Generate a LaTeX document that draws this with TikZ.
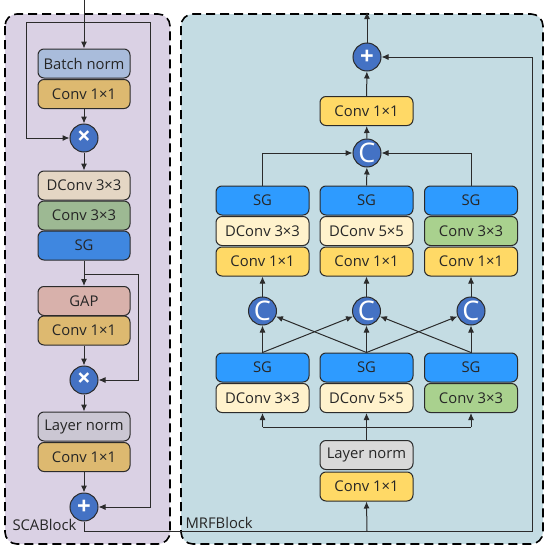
\documentclass[tikz,border=0pt]{standalone}
\usepackage{fontspec}
\setmainfont{Open Sans}
\usetikzlibrary{arrows.meta}
\definecolor{linec}{HTML}{2B2B2B}
\definecolor{scabg}{HTML}{DAD1E4}
\definecolor{mrfbg}{HTML}{C4DCE3}
\definecolor{opblue}{HTML}{4472C4}
\definecolor{bnc}{HTML}{A9BCDB}
\definecolor{tanc}{HTML}{DDB970}
\definecolor{beigec}{HTML}{E4D6C4}
\definecolor{greyg}{HTML}{9DB993}
\definecolor{sgl}{HTML}{3F87E0}
\definecolor{gapc}{HTML}{D8B1AB}
\definecolor{lnl}{HTML}{CBC7D3}
\definecolor{sgr}{HTML}{2E9BFF}
\definecolor{creamc}{HTML}{FFF2CC}
\definecolor{greenc}{HTML}{A9D18E}
\definecolor{yelc}{HTML}{FFD966}
\definecolor{lnr}{HTML}{D9D9D9}
\tikzset{
  blk/.style={draw=linec, line width=1pt, rounded corners=6pt, minimum width=92pt,
    minimum height=29pt, inner sep=0pt, text=black!85, font=\fontsize{14.8}{16}\selectfont},
  op/.style={circle, draw=linec, line width=1pt, fill=opblue, minimum size=28pt,
    inner sep=0pt, text=white},
  arr/.style={draw=linec, line width=1pt, -{Latex[length=7pt,width=6pt]}},
  ln/.style={draw=linec, line width=1pt},
  panel/.style={draw=black, line width=1.6pt, dash pattern=on 9pt off 5pt, rounded corners=12pt}
}
\newcommand{\opsym}[1]{\fontsize{24}{24}\selectfont\bfseries #1}
\newcommand{\catsym}{\fontsize{27}{27}\selectfont C}
\begin{document}
\begin{tikzpicture}[x=1pt, y=-1pt]
  \useasboundingbox (0,0) rectangle (550,549);
  % les deux blocs
  \filldraw[panel, fill=scabg] (5,14) rectangle (170,544);
  \filldraw[panel, fill=mrfbg] (181,14) rectangle (543,544);
  \node[anchor=west, font=\fontsize{14.8}{16}\selectfont, text=black!85] (scalab) at (9,525) {SCABlock};
  \node[anchor=west, font=\fontsize{14.8}{16}\selectfont, text=black!85] (mrflab) at (182,523) {MRFBlock};

  % SCABlock
  \node[blk, fill=bnc] (bn) at (84,63.5) {Batch norm};
  \node[blk, fill=tanc] (c1a) at (84,94) {Conv 1×1};
  \node[op] (mul1) at (84,138) {\opsym{×}};
  \node[blk, fill=beigec] (dc1) at (84,185.5) {DConv 3×3};
  \node[blk, fill=greyg] (cv1) at (84,215.5) {Conv 3×3};
  \node[blk, fill=sgl] (sg1) at (84,245.5) {SG};
  \node[blk, fill=gapc] (gap) at (84,301) {GAP};
  \node[blk, fill=tanc] (c1b) at (84,330.5) {Conv 1×1};
  \node[op] (mul2) at (84,380) {\opsym{×}};
  \node[blk, fill=lnl] (ln1) at (84,426.5) {Layer norm};
  \node[blk, fill=tanc] (c1c) at (84,457) {Conv 1×1};
  \node[op] (add1) at (84,507) {\opsym{+}};
  \coordinate (in) at (84,0); \coordinate (s1) at (84,22); \coordinate (s2) at (84,274);
  \coordinate (s3) at (84,531); \coordinate (s4) at (367,531);
  \draw[arr] (in) -- (bn.north);
  \draw[arr] (s1) -- (26,22) |- (mul1.west);
  \draw[arr] (s1) -- (150,22) |- (add1.east);
  \draw[arr] (c1a) -- (mul1); \draw[arr] (mul1) -- (dc1);
  \draw[arr] (sg1) -- (gap);
  \draw[arr] (s2) -- (138,274) |- (mul2.east);
  \draw[arr] (c1b) -- (mul2); \draw[arr] (mul2) -- (ln1); \draw[arr] (c1c) -- (add1);

  % MRFBlock
  \node[op] (addT) at (367,57) {\opsym{+}};
  \node[blk, fill=yelc, minimum width=93pt] (c1t) at (366.5,111) {Conv 1×1};
  \node[op] (cat) at (367,153) {\catsym};
  \foreach \n/\x/\lab/\col in {L/262.5/DConv 3×3/creamc, M/366.5/DConv 5×5/creamc, R/471/Conv 3×3/greenc} {
    \node[blk, fill=sgr, minimum width=93pt] (sgT\n) at (\x,200.5) {SG};
    \node[blk, fill=\col, minimum width=93pt] (dcT\n) at (\x,231) {\lab};
    \node[blk, fill=yelc, minimum width=93pt] (cvT\n) at (\x,261.5) {Conv 1×1};
    \node[op] (cat\n) at (\x,311) {\catsym};
    \node[blk, fill=sgr, minimum width=93pt] (sgB\n) at (\x,367.5) {SG};
    \node[blk, fill=\col, minimum width=93pt] (dcB\n) at (\x,398) {\lab};
    \draw[arr] (cat\n) -- (cvT\n);
    \draw[arr] (sgB\n) -- (cat\n);
  }
  \node[blk, fill=lnr, minimum width=93pt] (ln2) at (366.5,455) {Layer norm};
  \node[blk, fill=yelc, minimum width=93pt] (c1d) at (366.5,486.5) {Conv 1×1};
  % croisements
  \draw[arr] (sgBL.north) -- (catM); \draw[arr] (sgBM.north) -- (catL);
  \draw[arr] (sgBM.north) -- (catR); \draw[arr] (sgBR.north) -- (catM);
  \draw[arr] (sgTL.north) |- (cat.west); \draw[arr] (sgTM) -- (cat);
  \draw[arr] (sgTR.north) |- (cat.east);
  \draw[arr] (cat) -- (c1t); \draw[arr] (c1t) -- (addT);
  \draw[arr] (addT) -- (367,12);
  \draw[arr] (ln2) -- (dcBM);
  \draw[ln] (dcBL.south |- 0,427) -- (dcBR.south |- 0,427);
  \draw[arr] (dcBL.south |- 0,427) -- (dcBL.south);
  \draw[arr] (dcBR.south |- 0,427) -- (dcBR.south);
  % liaison entre blocs
  \draw[arr] (add1.south) -- (s3) -- (532,531) |- (addT.east);
  \draw[arr] (s4) -- (c1d.south);
\end{tikzpicture}
\end{document}
